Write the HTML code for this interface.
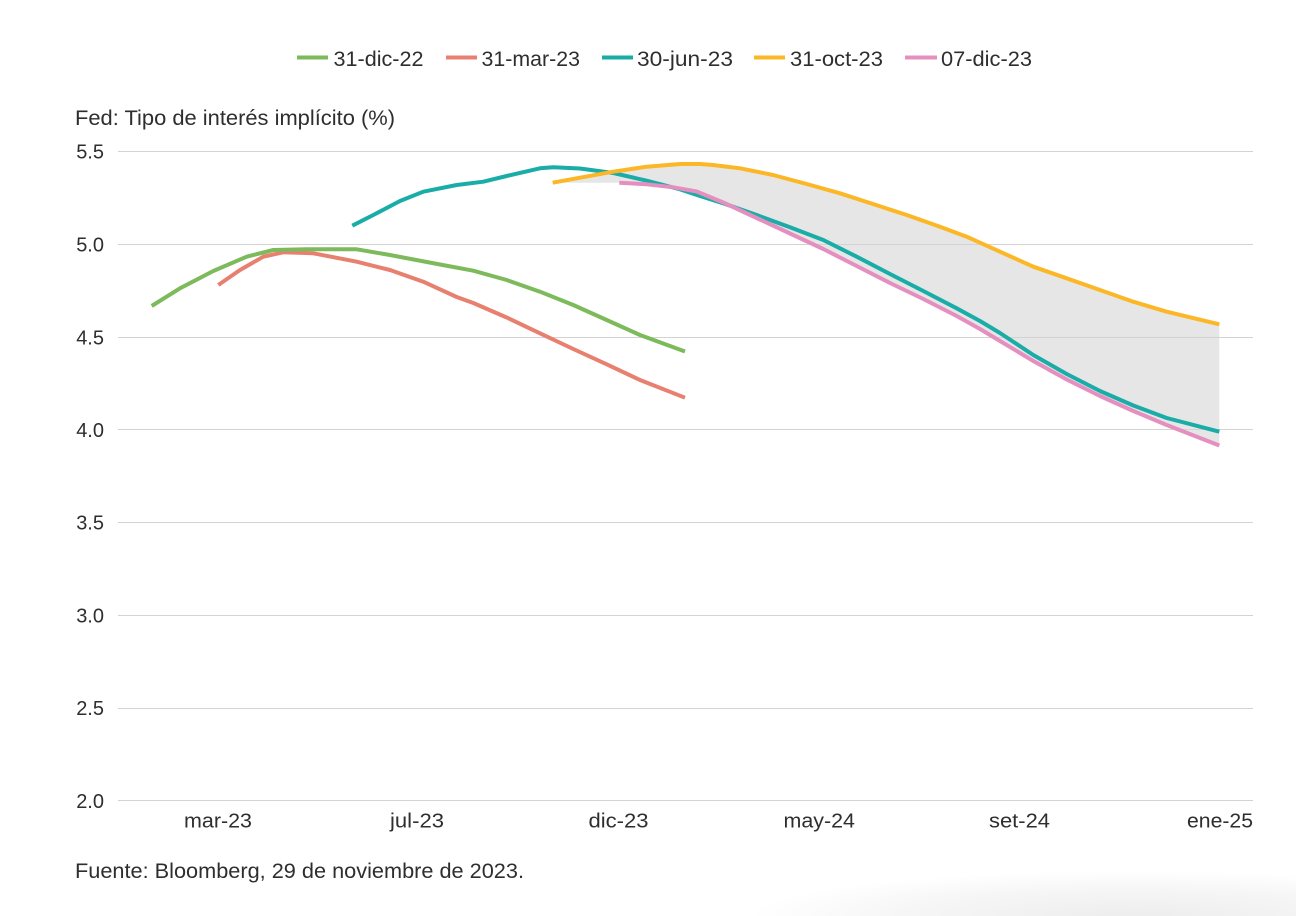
<!DOCTYPE html>
<html>
<head>
<meta charset="utf-8">
<style>
  html, body { margin: 0; padding: 0; background: #ffffff; width: 1296px; height: 916px; overflow: hidden; }
  body { position: relative; }
  svg { position: absolute; left: 0; top: 0; }
  .t { font-family: "Liberation Sans", Arial, sans-serif; fill: #2e2e2e; }
  .shadow {
    position: absolute; left: 560px; top: 856px; width: 736px; height: 60px;
    background: radial-gradient(ellipse 70% 100% at 78% 100%, rgba(0,0,0,0.07) 0%, rgba(0,0,0,0.035) 45%, rgba(0,0,0,0) 75%);
    pointer-events: none;
  }
</style>
</head>
<body>
<svg width="1296" height="916" viewBox="0 0 1296 916" xmlns="http://www.w3.org/2000/svg">
  <!-- Legend -->
  <g stroke-width="4" stroke-linecap="butt">
    <line x1="297" y1="57.5" x2="328" y2="57.5" stroke="#7dba5c"/>
    <line x1="446" y1="57.5" x2="477" y2="57.5" stroke="#e8806f"/>
    <line x1="602" y1="57.5" x2="633" y2="57.5" stroke="#1aaca6"/>
    <line x1="754" y1="57.5" x2="785" y2="57.5" stroke="#fbb726"/>
    <line x1="905" y1="57.5" x2="937" y2="57.5" stroke="#e48fbf"/>
  </g>
  <g class="t" font-size="21">
    <text x="333.5" y="66" textLength="90" lengthAdjust="spacingAndGlyphs">31-dic-22</text>
    <text x="481.5" y="66" textLength="98.5" lengthAdjust="spacingAndGlyphs">31-mar-23</text>
    <text x="637" y="66" textLength="96" lengthAdjust="spacingAndGlyphs">30-jun-23</text>
    <text x="790" y="66" textLength="93" lengthAdjust="spacingAndGlyphs">31-oct-23</text>
    <text x="941" y="66" textLength="91" lengthAdjust="spacingAndGlyphs">07-dic-23</text>
  </g>

  <!-- Title -->
  <text class="t" x="75" y="125" font-size="21" textLength="320" lengthAdjust="spacingAndGlyphs">Fed: Tipo de interés implícito (%)</text>

  <!-- Shaded band between 31-oct-23 and 07-dic-23 -->
  <polygon fill="#e6e6e6" points="
    552.7,182.7 580,177.7 613.3,171.7 646.7,166.7 680,164 700,164 713,165 740,168.3 773,175 806.7,184 840,193.3 873,204 906.7,215 940,226.7 966.7,236.7 1000,251.7 1033.3,266.7 1066.7,278.3 1100,290 1133.3,301.7 1166.7,311.7 1219.3,324.3
    1219.3,445.5
    1166.7,425 1133.3,411 1100,396 1066.7,379.5 1033.3,361 1000,341 980,329 956.7,316 923.3,299 890,283 856.7,266 823.3,249 790,233.5 756.7,218 723.3,202.5 696.7,191.5 673.3,187.3 646.7,184.3 619.3,182.7"/>

  <!-- Grid lines -->
  <g stroke="#d3d3d3" stroke-width="1">
    <line x1="118" y1="151.5" x2="1253" y2="151.5"/>
    <line x1="118" y1="244.5" x2="1253" y2="244.5"/>
    <line x1="118" y1="337.5" x2="1253" y2="337.5"/>
    <line x1="118" y1="429.5" x2="1253" y2="429.5"/>
    <line x1="118" y1="522.5" x2="1253" y2="522.5"/>
    <line x1="118" y1="615.5" x2="1253" y2="615.5"/>
    <line x1="118" y1="708.5" x2="1253" y2="708.5"/>
    <line x1="118" y1="800.5" x2="1253" y2="800.5"/>
  </g>

  <!-- Y tick labels -->
  <g class="t" font-size="20" text-anchor="end">
    <text x="104" y="158.5">5.5</text>
    <text x="104" y="251.5">5.0</text>
    <text x="104" y="344.5">4.5</text>
    <text x="104" y="437">4.0</text>
    <text x="104" y="529.5">3.5</text>
    <text x="104" y="622.5">3.0</text>
    <text x="104" y="715">2.5</text>
    <text x="104" y="808">2.0</text>
  </g>

  <!-- X tick labels -->
  <g class="t" font-size="20">
    <text x="184" y="827.5" textLength="68" lengthAdjust="spacingAndGlyphs">mar-23</text>
    <text x="390" y="827.5" textLength="54" lengthAdjust="spacingAndGlyphs">jul-23</text>
    <text x="588.5" y="827.5" textLength="60" lengthAdjust="spacingAndGlyphs">dic-23</text>
    <text x="783.5" y="827.5" textLength="71.5" lengthAdjust="spacingAndGlyphs">may-24</text>
    <text x="989" y="827.5" textLength="61" lengthAdjust="spacingAndGlyphs">set-24</text>
    <text x="1187" y="827.5" textLength="66" lengthAdjust="spacingAndGlyphs">ene-25</text>
  </g>

  <!-- Series -->
  <g fill="none" stroke-width="4" stroke-linejoin="round" stroke-linecap="butt">
    <!-- 31-mar-23 -->
    <polyline stroke="#e8806f" points="218.3,285 240,270 263.3,256.7 283.3,252.3 313.3,253.3 356.7,261.7 390,270 423.3,281.7 456.7,297 473.3,303 506.7,317.5 540,333.3 573.3,349 606.7,364.3 640,380 685,397.7"/>
    <!-- 31-dic-22 -->
    <polyline stroke="#7dba5c" points="151.7,306 180,288.3 213.3,271 246.7,256.7 273.3,250 306.7,249.3 356.7,249.3 390,255 440,264.5 473.3,270.7 506.7,280 540,291.7 573.3,305 606.7,320 640,335 685,351.5"/>
    <!-- 30-jun-23 -->
    <polyline stroke="#1aaca6" points="352.3,225.7 373.3,215 400,201 423.3,191.7 456.7,185 483.3,181.7 506.7,176 540,168.3 553.3,167.3 580,168.5 613.3,173 646.7,180.7 680,189.3 700,196 723.3,203.3 756.7,215 790,227.3 823.3,240 856.7,256.7 890,274 923.3,291 956.7,308.3 980,321 1000,333 1033.3,355 1066.7,374 1100,391 1133.3,405.5 1166.7,418 1219.3,431.7"/>
    <!-- 31-oct-23 -->
    <polyline stroke="#fbb726" points="552.7,182.7 580,177.7 613.3,171.7 646.7,166.7 680,164 700,164 713,165 740,168.3 773,175 806.7,184 840,193.3 873,204 906.7,215 940,226.7 966.7,236.7 1000,251.7 1033.3,266.7 1066.7,278.3 1100,290 1133.3,301.7 1166.7,311.7 1219.3,324.3"/>
    <!-- 07-dic-23 -->
    <polyline stroke="#e48fbf" points="619.3,182.7 646.7,184.3 673.3,187.3 696.7,191.5 723.3,202.5 756.7,218 790,233.5 823.3,249 856.7,266 890,283 923.3,299 956.7,316 980,329 1000,341 1033.3,361 1066.7,379.5 1100,396 1133.3,411 1166.7,425 1219.3,445.5"/>
  </g>

  <!-- Footer -->
  <text class="t" x="75" y="878" font-size="21" textLength="449" lengthAdjust="spacingAndGlyphs">Fuente: Bloomberg, 29 de noviembre de 2023.</text>
</svg>
<div class="shadow"></div>
</body>
</html>
